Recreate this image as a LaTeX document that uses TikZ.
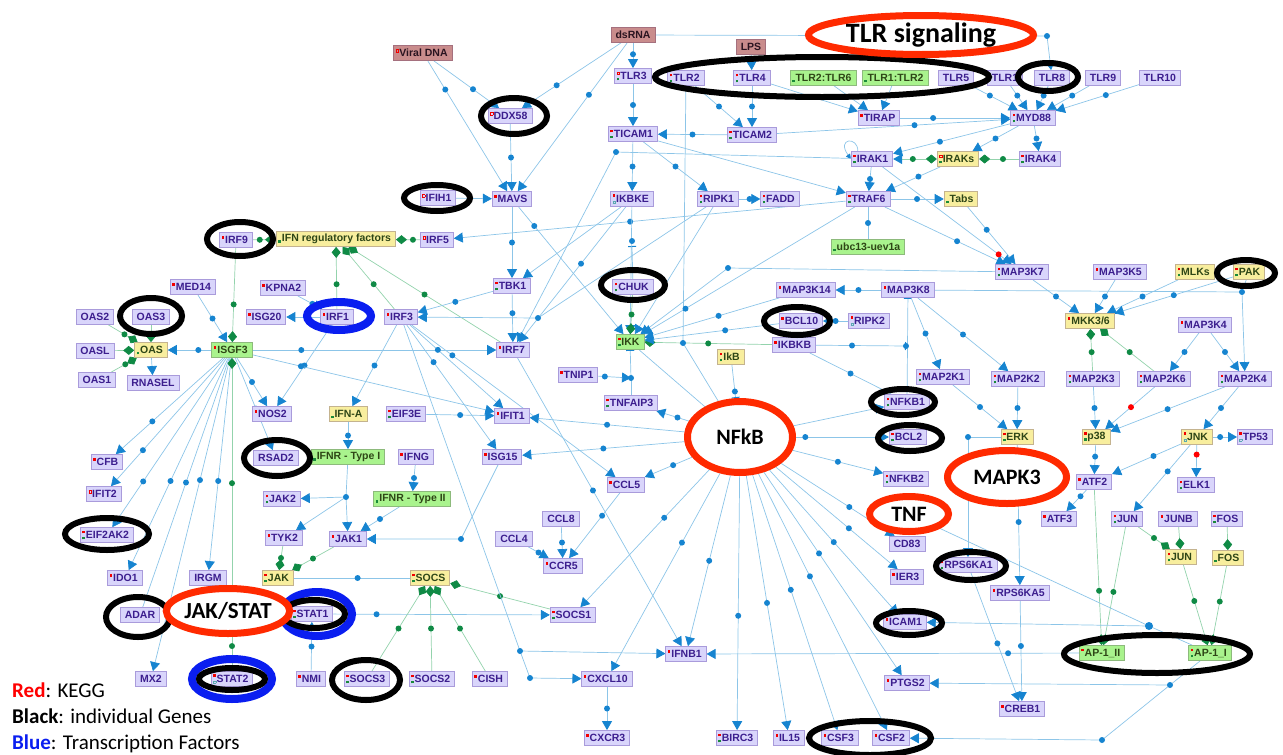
\documentclass[tikz,border=0pt]{standalone}
\usepackage{fontspec}
\setmainfont{Liberation Sans}
\newfontfamily\calib{Carlito}
\usetikzlibrary{arrows.meta,shapes.geometric}

\definecolor{genefill}{HTML}{D9D5FB}
\definecolor{genedraw}{HTML}{A99BDB}
\definecolor{genetext}{HTML}{3C1E8E}
\definecolor{famfill}{HTML}{F8EE9E}
\definecolor{famdraw}{HTML}{C4B38F}
\definecolor{famtext}{HTML}{2E4616}
\definecolor{cpxfill}{HTML}{A9F38D}
\definecolor{cpxdraw}{HTML}{8DBA7C}
\definecolor{ligfill}{HTML}{C98C8C}
\definecolor{ligdraw}{HTML}{A5707E}
\definecolor{ligtext}{HTML}{2A1420}
\definecolor{ln}{HTML}{8CC5E8}
\definecolor{arr}{HTML}{1684D0}
\definecolor{gln}{HTML}{93D3AC}
\definecolor{gdk}{HTML}{0F8A45}
\definecolor{mkr}{HTML}{F20000}
\definecolor{mkg}{HTML}{1A8A3A}
\definecolor{mko}{HTML}{5AAAB0}
\definecolor{keggred}{HTML}{FF2A00}
\definecolor{tfblue}{HTML}{0A1EF0}

\pgfdeclarelayer{bg}
\pgfdeclarelayer{top}
\pgfsetlayers{bg,main,top}

\newcommand{\sqR}{\textcolor{mkr}{\rule{2.6pt}{2.6pt}}}
\newcommand{\sqG}{\textcolor{mkg}{\rule{2.6pt}{2.6pt}}}
\newcommand{\sqO}[1]{{\color{#1}\fboxsep=0pt\fboxrule=0.5pt\fbox{\rule{2pt}{0pt}\rule{0pt}{2pt}}}}
\newcommand{\kR}{\hspace{-2.5pt}\rlap{\raisebox{5pt}{\sqR}}\hspace{3.5pt}}
\newcommand{\kG}{\hspace{-2.5pt}\rlap{\raisebox{-1pt}{\sqG}}\hspace{3.5pt}}
\newcommand{\kRG}{\hspace{-2.5pt}\rlap{\raisebox{5pt}{\sqR}}\rlap{\raisebox{-1pt}{\sqG}}\hspace{3.5pt}}
\newcommand{\kO}{\hspace{-2.5pt}\rlap{\raisebox{5pt}{\sqO{mkr}}}\hspace{3.5pt}}
\newcommand{\kOG}{\hspace{-2.5pt}\rlap{\raisebox{5pt}{\sqO{mkr}}}\rlap{\raisebox{-1pt}{\sqG}}\hspace{3.5pt}}
\newcommand{\kRO}{\hspace{-2.5pt}\rlap{\raisebox{5pt}{\sqR}}\rlap{\raisebox{-1pt}{\sqO{mko}}}\hspace{3.5pt}}

\tikzset{
  box/.style={rectangle, draw=genedraw, line width=0.8pt, fill=genefill, text=genetext,
    font=\fontsize{10.5}{12}\selectfont\bfseries, minimum height=15pt, inner xsep=4.5pt, inner ysep=1pt},
  gene/.style={box},
  fam/.style={box, fill=famfill, draw=famdraw, text=famtext},
  cplx/.style={box, fill=cpxfill, draw=cpxdraw, text=famtext},
  lig/.style={box, fill=ligfill, draw=ligdraw, text=ligtext},
  kegg/.style={ellipse, draw=keggred, line width=7pt, fill=white, inner sep=0pt,
    font=\calib\bfseries\fontsize{22}{24}\selectfont},
  act/.style={draw=ln, line width=0.7pt, -{Triangle[length=9pt,width=10pt,color=arr]}},
  lnk/.style={draw=ln, line width=0.7pt},
  inh/.style={draw=ln, line width=0.7pt, -{Bar[width=8pt,line width=1pt,color=arr]}},
  bnd/.style={draw=gln, line width=0.7pt, -{Diamond[length=11pt,width=9pt,color=gdk]}},
  bndact/.style={draw=gln, line width=0.7pt, {Triangle[length=9pt,width=10pt,color=arr]}-{Diamond[length=11pt,width=9pt,color=gdk]}},
  hub/.style={circle, fill=arr, inner sep=0pt, minimum size=6pt},
  bd/.style={hub, pos=0.6},
  gd/.style={hub, fill=gdk, pos=0.6},
  rdd/.style={hub, fill=red, pos=0.6},
  gring/.style={draw=black, line width=6pt},
  tfring/.style={draw=tfblue, line width=8pt},
  legend/.style={font=\calib\fontsize{21}{23}\selectfont, inner sep=0pt, anchor=base west}
}

\begin{document}
\begin{tikzpicture}[x=1pt,y=-1pt]
\useasboundingbox (0,0) rectangle (1283,755);

\node[lig] (vdna) at (423,53) {\kO Viral DNA};
\node[lig] (dsrna) at (633,35) {dsRNA};
\node[lig] (lps) at (751,47) {LPS};
\node[gene] (tlr3) at (633,76) {\kOG TLR3};
\node[gene] (tlr2) at (686,78) {\kRG TLR2};
\node[gene] (tlr4) at (752,78) {\kRG TLR4};
\node[cplx] (tlr26) at (823,78) {\kG TLR2:TLR6};
\node[cplx] (tlr12) at (895,78) {\kG TLR1:TLR2};
\node[gene] (tlr5) at (956,78) {TLR5};
\node[gene] (tlr1) at (1005,78) {TLR1};
\node[gene] (tlr8) at (1052,78) {TLR8};
\node[gene] (tlr9) at (1103,78) {TLR9};
\node[gene] (tlr10) at (1160,78) {TLR10};
\node[gene] (ddx58) at (510,116) {\kO DDX58};
\node[gene] (ticam1) at (633,134) {\kRG TICAM1};
\node[gene] (ticam2) at (752,135) {\kRG TICAM2};
\node[gene] (tirap) at (879,118) {\kR TIRAP};
\node[gene] (myd88) at (1033,118) {\kRG MYD88};
\node[gene] (irak1) at (872,159) {\kRG IRAK1};
\node[fam] (iraks) at (958,159) {\kOG IRAKs};
\node[gene] (irak4) at (1040,159) {\kRG IRAK4};
\node[gene] (ifih1) at (438,198) {\kO IFIH1};
\node[gene] (mavs) at (512,199) {\kR MAVS};
\node[gene] (ikbke) at (632,199) {\kRO IKBKE};
\node[gene] (ripk1) at (718,199) {\kRG RIPK1};
\node[gene] (fadd) at (780,199) {\kRG FADD};
\node[gene] (traf6) at (868,199) {\kRG TRAF6};
\node[fam] (tabs) at (961,199) {\kG Tabs};
\node[cplx] (ubc) at (868,247) {\kG ubc13-uev1a};
\node[gene] (irf9) at (236,240) {\kR IRF9};
\node[fam] (ifnrf) at (336,239) {\kG IFN regulatory factors};
\node[gene] (irf5) at (437,240) {\kO IRF5};
\node[gene] (med14) at (193,287) {\kR MED14};
\node[gene] (kpna2) at (283,288) {\kR KPNA2};
\node[gene] (tbk1) at (512,286) {\kRG TBK1};
\node[gene] (chuk) at (633,287) {\kRG CHUK};
\node[gene] (map3k14) at (806,290) {\kR MAP3K14};
\node[gene] (map3k8) at (908,290) {\kR MAP3K8};
\node[gene] (map3k7) at (1022,272) {\kRG MAP3K7};
\node[gene] (map3k5) at (1120,272) {\kR MAP3K5};
\node[fam] (mlks) at (1195,272) {\kRG MLKs};
\node[fam] (pak) at (1249,272) {\kRG PAK};
\node[gene] (oas2) at (95,317) {OAS2};
\node[gene] (oas3) at (151,317) {OAS3};
\node[gene] (isg20) at (266,317) {\kR ISG20};
\node[gene] (irf1) at (337,317) {\kR IRF1};
\node[gene] (irf3) at (401,317) {\kR IRF3};
\node[gene] (bcl10) at (801,321) {\kR BCL10};
\node[gene] (ripk2) at (869,321) {\kRO RIPK2};
\node[fam] (mkk36) at (1090,321) {\kR MKK3/6};
\node[gene] (map3k4) at (1205,325) {\kR MAP3K4};
\node[gene] (oasl) at (95,351) {OASL};
\node[fam] (oas) at (151,350) {\kG OAS};
\node[cplx] (isgf3) at (232,350) {\kR ISGF3};
\node[gene] (irf7) at (513,350) {\kR IRF7};
\node[cplx] (ikk) at (630,342) {\kRG IKK};
\node[gene] (ikbkb) at (794,345) {\kR IKBKB};
\node[fam] (ikb) at (731,357) {\kRG IkB};
\node[gene] (oas1) at (97,380) {OAS1};
\node[gene] (rnasel) at (153,383) {RNASEL};
\node[gene] (tnip1) at (578,375) {\kR TNIP1};
\node[gene] (map2k1) at (943,377) {\kRG MAP2K1};
\node[gene] (map2k2) at (1018,379) {\kRG MAP2K2};
\node[gene] (map2k3) at (1093,379) {\kRG MAP2K3};
\node[gene] (map2k6) at (1164,379) {\kRG MAP2K6};
\node[gene] (map2k4) at (1245,379) {\kRG MAP2K4};
\node[gene] (nfkb1) at (907,402) {\kRG NFKB1};
\node[gene] (tnfaip3) at (631,403) {\kRG TNFAIP3};
\node[gene] (nos2) at (272,414) {\kR NOS2};
\node[fam] (ifna) at (348,414) {\kG IFN-A};
\node[gene] (eif3e) at (406,414) {\kRG EIF3E};
\node[gene] (ifit1) at (512,416) {\kR IFIT1};
\node[gene] (bcl2) at (908,437) {\kRG BCL2};
\node[fam] (erk) at (1017,437) {\kRG ERK};
\node[fam] (p38) at (1096,437) {\kRG p38};
\node[fam] (jnk) at (1197,437) {\kRO JNK};
\node[gene] (tp53) at (1255,437) {\kRO TP53};
\node[gene] (cfb) at (107,462) {\kR CFB};
\node[gene] (rsad2) at (276,458) {RSAD2};
\node[cplx] (ifnr1) at (348,457) {\kG IFNR - Type I};
\node[gene] (ifng) at (416,457) {\kR IFNG};
\node[gene] (isg15) at (502,457) {\kR ISG15};
\node[gene] (nfkb2) at (906,479) {\kRG NFKB2};
\node[gene] (atf2) at (1094,482) {\kR ATF2};
\node[gene] (elk1) at (1196,485) {\kRG ELK1};
\node[gene] (ifit2) at (104,494) {\kO IFIT2};
\node[gene] (jak2) at (282,499) {\kRG JAK2};
\node[cplx] (ifnr2) at (412,499) {\kG IFNR - Type II};
\node[gene] (ccl5) at (626,485) {\kR CCL5};
\node[gene] (atf3) at (1059,519) {\kR ATF3};
\node[gene] (jun) at (1127,519) {\kRG JUN};
\node[gene] (junb) at (1178,519) {\kR JUNB};
\node[gene] (fos) at (1227,519) {\kRG FOS};
\node[gene] (ccl8) at (561,519) {CCL8};
\node[gene] (eif2ak2) at (107,535) {\kRG EIF2AK2};
\node[gene] (tyk2) at (284,538) {\kR TYK2};
\node[gene] (jak1) at (348,539) {\kR JAK1};
\node[gene] (ccl4) at (514,539) {CCL4};
\node[gene] (cd83) at (907,544) {CD83};
\node[fam] (junc) at (1181,557) {\kRG JUN};
\node[fam] (fosc) at (1228,558) {\kG FOS};
\node[gene] (ccr5) at (563,566) {\kR CCR5};
\node[gene] (rps6ka1) at (968,565) {\kRG RPS6KA1};
\node[gene] (ier3) at (907,577) {\kR IER3};
\node[gene] (ido1) at (125,578) {\kR IDO1};
\node[gene] (irgm) at (208,578) {IRGM};
\node[fam] (jak) at (278,578) {\kRG JAK};
\node[fam] (socs) at (430,578) {\kRG SOCS};
\node[gene] (rps6ka5) at (1020,593) {\kR RPS6KA5};
\node[gene] (adar) at (140,615) {ADAR};
\node[gene] (stat1) at (312,614) {\kRG STAT1};
\node[gene] (socs1) at (573,615) {\kRG SOCS1};
\node[gene] (icam1) at (905,622) {\kR ICAM1};
\node[cplx] (ap1ii) at (1102,653) {\kR AP-1\_II};
\node[cplx] (ap1i) at (1210,653) {\kRG AP-1\_I};
\node[gene] (ifnb1) at (686,654) {\kR IFNB1};
\node[gene] (mx2) at (151,679) {MX2};
\node[gene] (stat2) at (232,679) {\kRO STAT2};
\node[gene] (nmi) at (311,679) {\kR NMI};
\node[gene] (socs3) at (367,679) {\kRG SOCS3};
\node[gene] (socs2) at (432,679) {\kRG SOCS2};
\node[gene] (cish) at (490,679) {\kR CISH};
\node[gene] (cxcl10) at (607,679) {\kR CXCL10};
\node[gene] (ptgs2) at (907,683) {\kR PTGS2};
\node[gene] (creb1) at (1022,709) {\kR CREB1};
\node[gene] (cxcr3) at (607,738) {\kR CXCR3};
\node[gene] (birc3) at (737,738) {\kRG BIRC3};
\node[gene] (il15) at (789,738) {\kR IL15};
\node[gene] (csf3) at (840,738) {\kR CSF3};
\node[gene] (csf2) at (891,738) {\kR CSF2};

\node[legend] (lgred) at (12,697) {\textcolor{red}{\bfseries Red}: KEGG};
\node[legend] (lgblack) at (12,723) {\textbf{Black}: individual Genes};
\node[legend] (lgblue) at (12,749) {\textcolor{tfblue}{\bfseries Blue}: Transcription Factors};

\draw[gring] (514,116) ellipse [x radius=33pt, y radius=18pt];
\draw[gring] (437,198) ellipse [x radius=33pt, y radius=13pt];
\draw[gring] (822,77) ellipse [x radius=167pt, y radius=20pt];
\draw[gring] (1048,77) ellipse [x radius=30pt, y radius=14pt];
\draw[gring] (240,239) ellipse [x radius=33pt, y radius=17pt];
\draw[gring] (633,285) ellipse [x radius=32pt, y radius=15pt];
\draw[gring] (151,316) ellipse [x radius=31pt, y radius=18pt];
\draw[gring] (797,321) ellipse [x radius=33pt, y radius=14pt];
\draw[gring] (1246,273) ellipse [x radius=29pt, y radius=13pt];
\draw[gring] (903,402) ellipse [x radius=32pt, y radius=13pt];
\draw[gring] (910,438) ellipse [x radius=32pt, y radius=13pt];
\draw[gring] (277,458) ellipse [x radius=33pt, y radius=18pt];
\draw[gring] (107,534) ellipse [x radius=42pt, y radius=16pt];
\draw[gring] (138,617) ellipse [x radius=32pt, y radius=20pt];
\draw[tfring] (317,614) ellipse [x radius=35pt, y radius=22pt];
\draw[gring] (314,614) ellipse [x radius=31pt, y radius=14pt];
\draw[tfring] (232,679) ellipse [x radius=40pt, y radius=20pt];
\draw[gring] (232,679) ellipse [x radius=33pt, y radius=11pt];
\draw[tfring] (339,316) ellipse [x radius=32pt, y radius=14pt];
\draw[gring] (366,680) ellipse [x radius=34pt, y radius=20pt];
\draw[gring] (971,566) ellipse [x radius=35pt, y radius=14pt];
\draw[gring] (909,623) ellipse [x radius=33pt, y radius=12pt];
\draw[gring] (1157,654) ellipse [x radius=93pt, y radius=19pt];
\draw[gring] (870,738) ellipse [x radius=61pt, y radius=17pt];

\begin{pgfonlayer}{top}
\node[kegg, minimum width=225pt, minimum height=39pt, font=\calib\bfseries\fontsize{28}{30}\selectfont] (tlrsig) at (921,35) {TLR signaling};
\node[kegg, minimum width=105pt, minimum height=71pt] (nfkb) at (740,437) {NFkB};
\node[kegg, minimum width=79pt, minimum height=35pt] (tnf) at (909,514) {TNF};
\node[kegg, minimum width=119pt, minimum height=53pt] (mapk3) at (1007,477) {MAPK3};
\node[kegg, minimum width=113pt, minimum height=45pt, font=\calib\bfseries\fontsize{23}{25}\selectfont] (jakstat) at (228,611) {JAK/STAT};
\end{pgfonlayer}

\begin{pgfonlayer}{bg}
\coordinate (j1) at (1047,36);
\coordinate (j2) at (616,152);
\coordinate (j3) at (346,497);
\coordinate (j4) at (461,539);
\coordinate (j5) at (520,651);
\coordinate (j6) at (530,678);
\coordinate (j7) at (683,343);
\coordinate (j8) at (728,268);
\coordinate (j9) at (631,378);
\coordinate (j10) at (906,346);
\coordinate (j11) at (1242,292);
\coordinate (j12) at (1149,626);
\coordinate (j13) at (1170,685);
\coordinate (j14) at (1102,740);
\coordinate (j15) at (538,318);
\coordinate (j16) at (632,246);

\draw[act] (dsrna) -- node[bd,pos=0.45]{} (tlr3);
\draw[act] (dsrna) -- node[bd,pos=0.65]{} (ddx58);
\draw[act] (dsrna) -- node[bd,pos=0.35]{} (mavs);
\draw[act] (dsrna) -- (j1) -- (tlr8);
\draw[act] (vdna) -- node[bd,pos=0.6]{} (ddx58);
\draw[act] (vdna) -- node[bd,pos=0.22]{} (mavs);
\draw[act] (ddx58) -- node[bd,pos=0.5]{} (mavs);
\draw[act] (ifih1) -- (mavs);
\draw[act] (lps) -- (tlr4);
\draw[act] (tlr3) -- node[bd,pos=0.5]{} (ticam1);
\draw[act] (ticam1) -- node[bd,pos=0.5]{} (ikbke);
\draw[act] (tlr2) -- node[bd,pos=0.5]{} (ticam2);
\draw[act] (tlr4) -- node[bd,pos=0.5]{} (ticam2);
\draw[act] (ticam2) -- node[bd,pos=0.5]{} (ticam1);
\draw[act] (tlr4) -- (tirap);
\draw[act] (tlr26) -- (tirap);
\draw[act] (tlr12) -- (tirap);
\draw[act] (tirap) -- node[bd,pos=0.3]{} (myd88);
\draw[act] (ticam2) -- node[bd,pos=0.59]{} (myd88);
\draw[act] (tlr5) -- node[bd,pos=0.4]{} (myd88);
\draw[act] (tlr1) -- node[bd,pos=0.4]{} (myd88);
\draw[act] (tlr8) -- node[bd,pos=0.4]{} (myd88);
\draw[act] (tlr9) -- node[bd,pos=0.4]{} (myd88);
\draw[act] (tlr10) -- node[bd,pos=0.4]{} (myd88);
\draw[act] (myd88) -- node[bd,pos=0.5]{} (irak4);
\draw[act] (myd88) -- node[bd,pos=0.5]{} (iraks);
\draw[act] (myd88) -- node[bd,pos=0.6]{} (irak1);
\draw[bnd] (irak4) -- node[gd,pos=0.4]{} (iraks);
\draw[bndact] (irak1) -- node[gd,pos=0.45]{} (iraks);
\draw[lnk, -{Triangle[length=5pt,width=5pt,color=arr]}] ([xshift=7pt]irak1.north west) .. controls (858,136) and (836,138) .. (irak1.west);
\draw[act] (irak1) -- node[bd,pos=0.5]{} (traf6);
\draw[act] (iraks) -- node[bd,pos=0.4]{} (traf6);
\draw[act] (ticam1) -- (traf6);
\draw[act] (ticam1) -- node[bd,pos=0.5]{} (ripk1);
\draw[act] (ripk1) -- node[bd,pos=0.5]{} (fadd);
\draw[act] (traf6) -- node[bd,pos=0.5]{} (tabs);
\draw[lnk] (traf6) -- node[bd,pos=0.5]{} (ubc);
\draw[act] (traf6) -- node[bd,pos=0.6]{} (map3k7);
\draw[act] (tabs) -- node[bd,pos=0.4]{} (map3k7);
\draw[act] (irak1) -- node[rdd,pos=0.9]{} (map3k7);
\draw[lnk] (irak1) -- (j2);
\draw[act] (j2) -- (irf7);
\draw[act] (mavs) -- node[bd,pos=0.5]{} (tbk1);
\draw[act] (ikbke) -- (tbk1);
\draw[act] (mavs) -- node[bd,pos=0.15]{} (ikk);
\draw[act] (traf6) -- node[bd,pos=0.55]{} (irf5);
\draw[inh] (chuk) -- (j16);
\draw[bnd] (irf5) -- node[gd,pos=0.3]{} (ifnrf);
\draw[bnd] (irf9) -- node[gd,pos=0.3]{} (ifnrf);
\draw[bnd] (irf1) -- node[gd,pos=0.4]{} (ifnrf);
\draw[bnd] (irf3) -- node[gd,pos=0.4]{} (ifnrf);
\draw[bnd] (irf7) -- node[gd,pos=0.5]{} (ifnrf);
\draw[bnd] (irf9) -- node[gd,pos=0.6]{} (isgf3);
\draw[act] (tbk1) -- node[bd,pos=0.5]{} (irf3);
\draw[act] (tbk1) -- node[bd,pos=0.4]{} (irf7);
\draw[act] (ikbke) -- node[bd,pos=0.42]{} (irf7);
\draw[act] (ripk1) -- (j15) -- (irf3);
\draw[act] (ripk1) -- (ikk);
\draw[act] (ikbke) -- (ikk);
\draw[act] (kpna2) -- node[bd,pos=0.6]{} (irf1);
\draw[act] (irf1) -- (isg20);
\draw[act] (irf1) -- node[bd,pos=0.5]{} (nos2);
\draw[act] (isgf3) -- node[bd,pos=0.5]{} (nos2);
\draw[act] (isgf3) -- node[bd,pos=0.2]{} (irf7);
\draw[act] (isgf3) -- node[bd,pos=0.2]{} (ifit1);
\draw[act] (isgf3) -- node[bd,pos=0.3]{} (oas);
\draw[act] (med14) -- node[bd,pos=0.5]{} (isgf3);
\draw[bnd] (oas2) -- node[gd,pos=0.55]{} (oas);
\draw[bnd] (oas3) -- (oas);
\draw[bnd] (oasl) -- (oas);
\draw[bnd] (oas1) -- node[gd,pos=0.55]{} (oas);
\draw[act] (oas) -- (rnasel);
\draw[act] (isgf3) -- node[bd,pos=0.66]{} (cfb);
\draw[act] (isgf3) -- node[bd,pos=0.72]{} (ifit2);
\draw[act] (isgf3) -- node[bd,pos=0.73]{} (eif2ak2);
\draw[act] (isgf3) -- node[bd,pos=0.58]{} (ido1);
\draw[lnk] (isgf3) -- node[bd,pos=0.5]{} (adar);
\draw[act] (isgf3) -- node[bd,pos=0.39]{} (mx2);
\draw[act] (isgf3) -- node[bd,pos=0.58]{} (irgm);
\draw[act] (isgf3) -- node[bd,pos=0.55]{} (rsad2);
\draw[bnd] (stat2) -- node[gd,pos=0.08]{} node[gd,pos=0.6]{} (isgf3);
\draw[act] (irf3) -- node[bd,pos=0.5]{} (ifna);
\draw[act] (ifna) -- node[bd,pos=0.5]{} (ifnr1);
\draw[lnk] (ifnr1) -- (j3);
\draw[act] (j3) -- (jak2);
\draw[act] (j3) -- (tyk2);
\draw[act] (j3) -- (jak1);
\draw[act] (ifng) -- node[bd,pos=0.5]{} (ifnr2);
\draw[act] (ifnr2) -- node[bd,pos=0.5]{} (jak1);
\draw[bnd] (jak1) -- node[gd,pos=0.5]{} (jak);
\draw[bnd] (tyk2) -- node[gd,pos=0.5]{} (jak);
\draw[lnk] (jak) -- node[bd,pos=0.55]{} (socs);
\draw[act] (stat1) -- node[bd,pos=0.2]{} (socs1);
\draw[act] (nmi) -- node[bd,pos=0.5]{} (stat1);
\draw[bnd] (socs3) -- node[gd,pos=0.5]{} (socs);
\draw[bnd] (socs2) -- node[gd,pos=0.5]{} (socs);
\draw[bnd] (cish) -- node[gd,pos=0.5]{} (socs);
\draw[bnd] (socs1) -- node[gd,pos=0.5]{} (socs);
\draw[act] (eif3e) -- node[bd,pos=0.5]{} (ifit1);
\draw[act] (irf3) -- node[bd,pos=0.3]{} (ifit1);
\draw[act] (irf3) -- node[bd,pos=0.3]{} (isg15);
\draw[act] (irf3) -- node[bd,pos=0.2]{} (ccl5);
\draw[act] (isg15) -- (j4) -- (jak1);
\draw[lnk] (irf3) -- (j5);
\draw[act] (j5) -- (j6) -- (cxcl10);
\draw[act] (j5) -- (ifnb1);
\draw[act] (irf7) -- node[bd,pos=0.46]{} (ifnb1);
\draw[act] (ap1ii) -- node[bd,pos=0.19]{} (ifnb1);
\draw[act] (nfkb) -- node[bd,pos=0.35]{} (tnfaip3);
\draw[act] (nfkb) -- node[bd,pos=0.5]{} (ifit1);
\draw[act] (nfkb) -- node[bd,pos=0.5]{} (isg15);
\draw[act] (nfkb) -- node[bd,pos=0.4]{} (ccl5);
\draw[act] (nfkb) -- node[bd,pos=0.35]{} (socs1);
\draw[act] (nfkb) -- node[bd,pos=0.35]{} (cxcl10);
\draw[act] (nfkb) -- node[bd,pos=0.5]{} (ifnb1);
\draw[act] (nfkb) -- node[bd,pos=0.55]{} (birc3);
\draw[act] (nfkb) -- node[bd,pos=0.5]{} (il15);
\draw[act] (nfkb) -- node[bd,pos=0.45]{} (csf3);
\draw[act] (nfkb) -- node[bd,pos=0.4]{} (csf2);
\draw[act] (nfkb) -- node[bd,pos=0.4]{} (ptgs2);
\draw[act] (nfkb) -- node[bd,pos=0.5]{} (icam1);
\draw[act] (nfkb) -- node[bd,pos=0.6]{} (ier3);
\draw[act] (nfkb) -- node[bd,pos=0.6]{} (cd83);
\draw[act] (nfkb) -- node[bd,pos=0.5]{} (nfkb2);
\draw[act] (nfkb) -- node[bd,pos=0.1]{} (bcl2);
\draw[act] (nfkb) -- (nfkb1);
\draw[inh] (ikb) -- node[bd,pos=0.8]{} (nfkb);
\draw[lnk] (tlr2) -- (j7);
\draw[lnk] (j7) -- (nfkb);
\draw[lnk] (ikk) -- (nfkb);
\draw[bnd] (chuk) -- node[gd,pos=0.5]{} (ikk);
\draw[bnd] (ikbkb) -- node[gd,pos=0.5]{} (ikk);
\draw[act] (map3k14) -- node[bd,pos=0.45]{} (ikk);
\draw[act] (bcl10) -- node[bd,pos=0.4]{} (ikk);
\draw[act] (map3k7) -- (j8) -- (ikk);
\draw[act] (traf6) -- node[bd,pos=0.8]{} (ikk);
\draw[lnk] (tnfaip3) -- (j9);
\draw[inh] (j9) -- (ikk);
\draw[act] (tnip1) -- node[bd,pos=0.2]{} (j9);
\draw[act] (map3k8) -- node[bd,pos=0.5]{} (map3k14);
\draw[act] (ripk2) -- node[bd,pos=0.5]{} (bcl10);
\draw[lnk] (ikbkb) -- node[bd,pos=0.5]{} (nfkb1);
\draw[inh] (ikbkb) -- node[bd,pos=0.4]{} (j10);
\draw[inh] (nfkb1) -- (map3k8);
\draw[act] (map3k8) -- node[bd,pos=0.5]{} (map2k1);
\draw[act] (map3k8) -- node[bd,pos=0.5]{} (map2k2);
\draw[lnk] (map3k8) -- (j11);
\draw[act] (pak) -- (j11) -- (map2k4);
\draw[act] (map3k7) -- node[bd,pos=0.5]{} (mkk36);
\draw[act] (map3k5) -- node[bd,pos=0.5]{} (mkk36);
\draw[act] (mlks) -- node[bd,pos=0.5]{} (mkk36);
\draw[act] (pak) -- node[bd,pos=0.5]{} (mkk36);
\draw[bnd] (map2k3) -- node[gd,pos=0.45]{} (mkk36);
\draw[bnd] (map2k6) -- node[gd,pos=0.45]{} (mkk36);
\draw[act] (map3k4) -- node[bd,pos=0.5]{} (map2k6);
\draw[act] (map3k4) -- node[bd,pos=0.5]{} (map2k4);
\draw[act] (map2k1) -- node[bd,pos=0.5]{} (erk);
\draw[act] (map2k2) -- node[bd,pos=0.5]{} (erk);
\draw[act] (map2k3) -- node[bd,pos=0.5]{} (p38);
\draw[act] (map2k6) -- node[rdd,pos=0.48]{} (p38);
\draw[act] (map2k4) -- node[bd,pos=0.5]{} (p38);
\draw[act] (map2k4) -- node[bd,pos=0.5]{} (jnk);
\draw[act] (p38) -- node[bd,pos=0.4]{} (atf2);
\draw[act] (jnk) -- node[bd,pos=0.4]{} (atf2);
\draw[act] (jnk) -- node[bd,pos=0.3]{} (tp53);
\draw[act] (jnk) -- node[rdd,pos=0.3]{} (elk1);
\draw[act] (jnk) -- node[bd,pos=0.4]{} (jun);
\draw[act] (erk) -| node[bd,pos=0.5]{} (rps6ka1);
\draw[act] (erk) -- node[bd,pos=0.55]{} (rps6ka5);
\draw[act] (atf2) -- node[bd,pos=0.3]{} (atf3);
\draw[bnd] (atf2) -- node[gd,pos=0.65]{} (ap1ii);
\draw[bnd] (jun) -- node[gd,pos=0.55]{} (ap1ii);
\draw[bnd] (jun) -- node[gd,pos=0.5]{} (junc);
\draw[bnd] (junb) -- (junc);
\draw[bnd] (fos) -- (fosc);
\draw[bnd] (junc) -- node[gd,pos=0.45]{} (ap1i);
\draw[bnd] (fosc) -- node[gd,pos=0.45]{} (ap1i);
\draw[act] (rps6ka1) -- node[bd,pos=0.55]{} (creb1);
\draw[act] (rps6ka5) -- node[bd,pos=0.45]{} (creb1);
\draw[lnk] (tnf) -- (j12);
\draw[lnk] (ap1i) -- (j12);
\draw[act] (j12) -- (icam1);
\draw[lnk] (ap1i) -- (j13);
\draw[act] (j13) -- (ptgs2);
\draw[act] (j13) -- (j14) -- (csf2);
\draw[act] (ccl5) -- node[bd,pos=0.35]{} (ccr5);
\draw[act] (ccl8) -- node[bd,pos=0.5]{} (ccr5);
\draw[act] (ccl4) -- node[bd,pos=0.5]{} (ccr5);
\draw[act] (cxcl10) -- node[bd,pos=0.5]{} (cxcr3);

\node[hub] at (j1) {};
\node[hub] at (j2) {};
\node[hub] at (j3) {};
\node[hub] at (j4) {};
\node[hub] at (j5) {};
\node[hub] at (j6) {};
\node[hub] at (j7) {};
\node[hub] at (j8) {};
\node[hub] at (j9) {};
\node[hub] at (j10) {};
\node[hub] at (j11) {};
\node[hub, minimum size=8pt] at (j12) {};
\node[hub] at (j13) {};
\node[hub] at (j14) {};
\node[hub] at (j15) {};
\node[hub] at (632,241) {};
\end{pgfonlayer}
\end{tikzpicture}
\end{document}
